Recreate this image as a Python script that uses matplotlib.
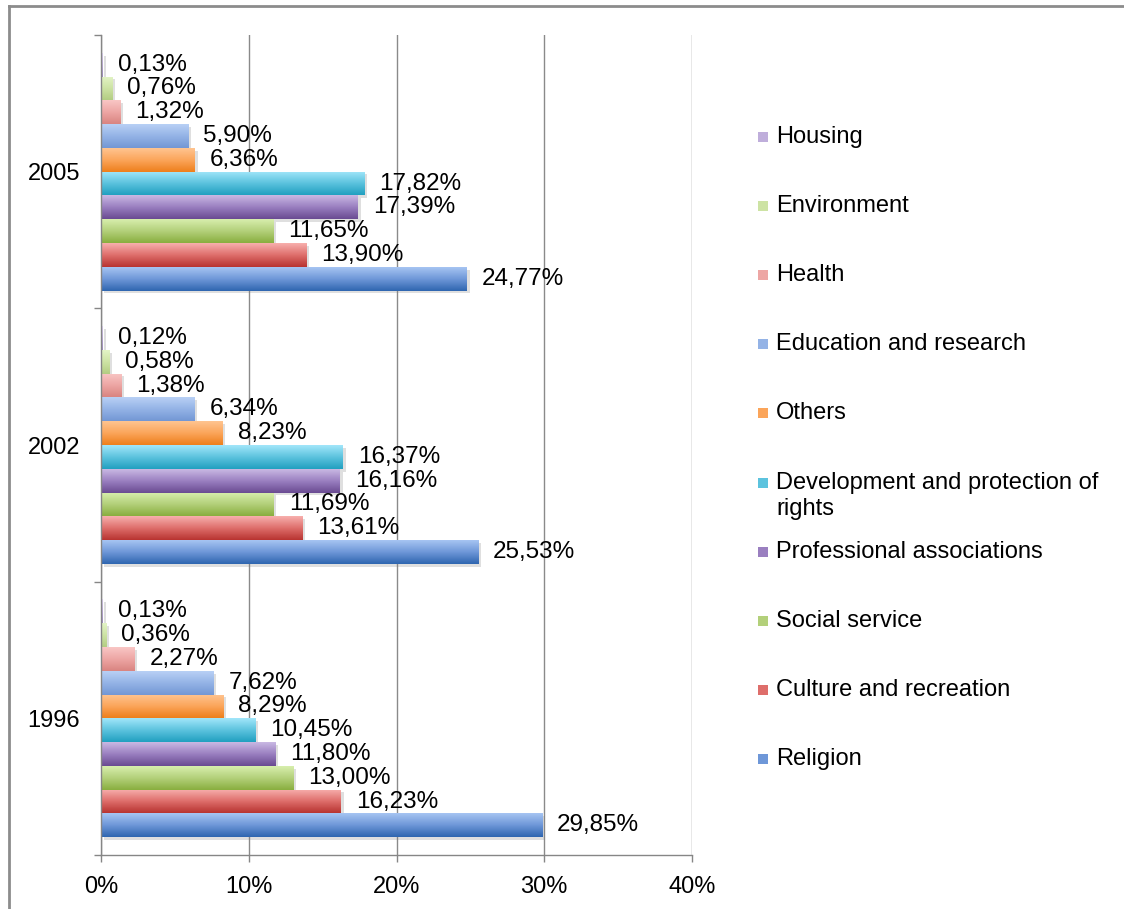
import numpy as np
import matplotlib
matplotlib.use("Agg")
import matplotlib.pyplot as plt
from matplotlib.colors import LinearSegmentedColormap
from matplotlib.lines import Line2D
from matplotlib.patches import Rectangle
import matplotlib.patheffects as pe

plt.rcParams['font.family'] = ['Liberation Sans', 'DejaVu Sans']

years = ["1996", "2002", "2005"]

# series listed bottom-up within each year group
series = ["Religion", "Culture and recreation", "Social service",
          "Professional associations", "Development and protection of rights",
          "Others", "Education and research", "Health", "Environment", "Housing"]

religion = [29.85, 25.53, 24.77]
culture = [16.23, 13.61, 13.90]
social = [13.00, 11.69, 11.65]
professional = [11.80, 16.16, 17.39]
development = [10.45, 16.37, 17.82]
others = [8.29, 8.23, 6.36]
education = [7.62, 6.34, 5.90]
health = [2.27, 1.38, 1.32]
environment = [0.36, 0.58, 0.76]
housing = [0.13, 0.12, 0.13]

values = [religion, culture, social, professional, development,
          others, education, health, environment, housing]

# (light top, mid, dark bottom) for the bar gradients
gradients = [
    ("#A6C4F2", "#6E97D8", "#2F66B0"),
    ("#F7AFAD", "#DE6E6B", "#B83431"),
    ("#D7EEAD", "#B3D07A", "#89AE3F"),
    ("#C9B8E3", "#9A7FC0", "#6A4B92"),
    ("#A2E6FA", "#5CC3DE", "#21A0C0"),
    ("#FFC490", "#FBA55A", "#EE7F1C"),
    ("#B8D0F5", "#94B3E6", "#7397D4"),
    ("#F9C6C5", "#EDA6A4", "#D98481"),
    ("#E3F4C6", "#CDE3A4", "#B3CD83"),
    ("#D9CEEC", "#BFAEDB", "#A08CC4"),
]

W, H = 1124, 909
fig = plt.figure(figsize=(W / 100, H / 100), dpi=100)
ax = fig.add_axes([101 / W, 1 - 855 / H, (692 - 101) / W, (855 - 35) / H])

n = len(series)
slot = 1.0 / (n + 1.5)          # gap width 150%
group_pos = np.arange(len(years))
grad = np.linspace(1, 0, 64).reshape(-1, 1)   # row 0 (bottom) is darkest

for i, (name, vals) in enumerate(zip(series, values)):
    ypos = group_pos - n * slot / 2 + (i + 0.5) * slot
    z = 2 + (n - 1 - i) * 0.02
    cmap = LinearSegmentedColormap.from_list(name, list(gradients[i]))
    bars = ax.barh(ypos, vals, height=slot, color=gradients[i][1], zorder=z,
                   linewidth=0)
    for b in bars:
        b.set_path_effects([pe.SimplePatchShadow(offset=(2, -2), shadow_rgbFace="#808080", alpha=0.25),
                            pe.Normal()])
        x0, y0, w, h = b.get_x(), b.get_y(), b.get_width(), b.get_height()
        im = ax.imshow(grad, cmap=cmap, extent=(x0, x0 + w, y0, y0 + h),
                       origin="lower", aspect="auto", zorder=z + 0.01,
                       interpolation="bilinear", vmin=0, vmax=1)
        im.set_clip_path(b)
    for v, y in zip(vals, ypos):
        ax.annotate(f"{v:.2f}".replace(".", ",") + "%", xy=(v, y), xytext=(15, 0),
                    textcoords="offset pixels", ha="left", va="center",
                    fontsize=17.5, color="black", zorder=10)

ax.set_xlim(0, 40)
ax.set_ylim(-0.5, len(years) - 0.5)
ax.set_xticks(np.arange(0, 41, 10))
ax.set_xticklabels([f"{t}%" for t in range(0, 41, 10)], fontsize=17)
ax.set_yticks(group_pos)
ax.set_yticklabels(years, fontsize=17)
ax.set_yticks(np.arange(-0.5, len(years), 1), minor=True)
ax.tick_params(axis="y", which="major", length=0, pad=15)
ax.tick_params(axis="y", which="minor", length=5, width=1, color="#868686", direction="out")
ax.tick_params(axis="x", length=5, width=1, color="#868686", direction="out", pad=10)

ax.grid(axis="x", color="#8a8a8a", linewidth=1, zorder=0)
ax.set_axisbelow(True)
for s in ["top", "right"]:
    ax.spines[s].set_visible(False)
for s in ["left", "bottom"]:
    ax.spines[s].set_color("#868686")
    ax.spines[s].set_linewidth(1)

# legend drawn by hand, top entry first
leg_top = 137
leg_step = 69.1
for k, i in enumerate(range(n - 1, -1, -1)):
    yc = 1 - (leg_top + k * leg_step) / H
    sq = Rectangle((758 / W, yc - 5 / H), 10 / W, 10 / H, transform=fig.transFigure,
                   facecolor=gradients[i][1], edgecolor="none")
    fig.add_artist(sq)
    label = series[i]
    if label == "Development and protection of rights":
        fig.text(776 / W, yc, "Development and protection of", fontsize=17, va="center", ha="left")
        fig.text(776 / W, yc - 26 / H, "rights", fontsize=17, va="center", ha="left")
    else:
        fig.text(776 / W, yc, label, fontsize=17, va="center", ha="left")

# chart frame
fig.add_artist(Line2D([9 / W, 9 / W], [0, 1 - 6 / H], transform=fig.transFigure,
                      color="#8c8c8c", linewidth=2))
fig.add_artist(Line2D([9 / W, 1], [1 - 6 / H, 1 - 6 / H], transform=fig.transFigure,
                      color="#8c8c8c", linewidth=2))

fig.savefig("out.png", dpi=100)
